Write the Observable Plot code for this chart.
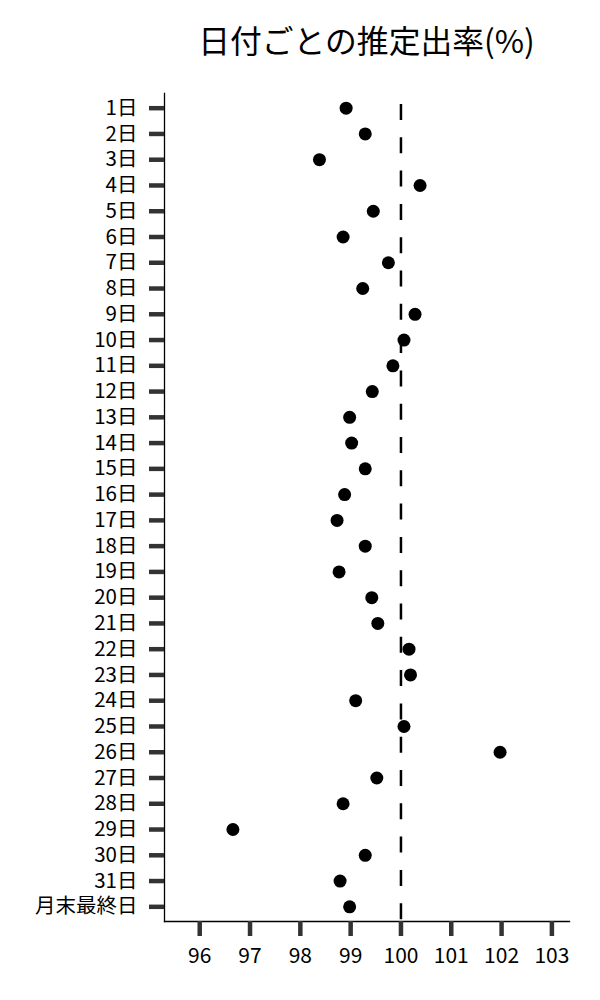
<!DOCTYPE html>
<html>
<head>
<meta charset="utf-8">
<script src="https://cdn.jsdelivr.net/npm/d3@7"></script>
<script src="https://cdn.jsdelivr.net/npm/@observablehq/plot@0.6"></script>
<style>
  html, body { margin: 0; padding: 0; background: white; }
  #title {
    box-sizing: border-box;
    height: 80px;
    padding: 16px 31px 0 164px;
    text-align: center;
    font-family: "Noto Sans CJK JP", "Noto Sans", sans-serif;
    font-size: 31.8px;
    line-height: normal;
    color: #000;
    white-space: nowrap;
  }
  #chart svg { display: block; }
</style>
</head>
<body>
<div id="title">日付ごとの推定出率(%)</div>
<div id="chart"></div>
<script>
const days = ["1日","2日","3日","4日","5日","6日","7日","8日","9日","10日",
  "11日","12日","13日","14日","15日","16日","17日","18日","19日","20日",
  "21日","22日","23日","24日","25日","26日","27日","28日","29日","30日",
  "31日","月末最終日"];
const rates = [98.91, 99.29, 98.38, 100.38, 99.45, 98.85, 99.75, 99.24, 100.28, 100.06,
  99.84, 99.43, 98.98, 99.02, 99.29, 98.88, 98.73, 99.29, 98.77, 99.42,
  99.54, 100.16, 100.19, 99.10, 100.06, 101.97, 99.52, 98.85, 96.66, 99.29,
  98.79, 98.98];
const referenceRate = [100];
const xTicks = [96, 97, 98, 99, 100, 101, 102, 103];
const xDomain = [95.3, 103.35];

const data = days.map((d, i) => ({day: d, rate: rates[i]}));

const chart = Plot.plot({
  width: 600,
  height: 920,
  marginTop: 13,
  marginBottom: 79,
  marginLeft: 164,
  marginRight: 31,
  style: {fontFamily: "'Noto Sans CJK JP', 'Noto Sans', sans-serif", fontSize: "21px", color: "#000", background: "white"},
  x: {domain: xDomain},
  y: {type: "point", domain: days, padding: 0.57, round: false},
  marks: [
    Plot.frame({anchor: "left", stroke: "#000", strokeWidth: 1.3}),
    Plot.frame({anchor: "bottom", stroke: "#000", strokeWidth: 1.3}),
    Plot.ruleX(referenceRate, {stroke: "#000", strokeWidth: 2.5, strokeDasharray: "16,17.3", strokeDashoffset: 22.3}),
    Plot.dot(data, {x: "rate", y: "day", r: 6.5, fill: "#000", stroke: null}),
    Plot.axisY({tickSize: 15, tickPadding: 12, stroke: "#333", strokeWidth: 4.5, fill: "#000", label: null, fontSize: 20.5}),
    Plot.axisX({ticks: xTicks, tickFormat: d => String(d), tickSize: 15, tickPadding: 12, stroke: "#333", strokeWidth: 4.5, fill: "#000", label: null, fontSize: 21})
  ]
});
document.getElementById("chart").appendChild(chart);
</script>
</body>
</html>
